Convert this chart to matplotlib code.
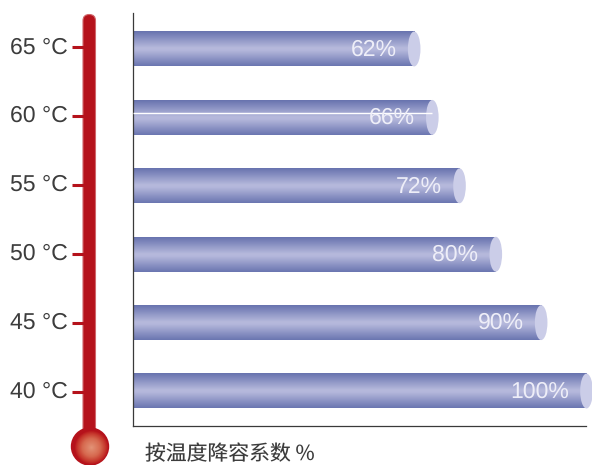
import numpy as np
import matplotlib
matplotlib.use("Agg")
import matplotlib.pyplot as plt
from matplotlib.colors import LinearSegmentedColormap
from matplotlib.patches import Ellipse, Circle, FancyBboxPatch

temperatures = [40, 45, 50, 55, 60, 65]
factors = [100, 90, 80, 72, 66, 62]
xlabel_text = "按温度降容系数 %"

plt.rcParams["text.hinting"] = "no_hinting"
plt.rcParams["text.hinting_factor"] = 1

W, H = 592, 465
fig = plt.figure(figsize=(W / 100, H / 100), dpi=100)
FONT = ["Liberation Sans", "DejaVu Sans"]
CJK = ["Noto Sans CJK SC", "DejaVu Sans"]
TXT = "#3c3c3c"

# bars axes
L, R, T, B = 133, 592, 13, 425.5
ax = fig.add_axes([L / W, 1 - B / H, (R - L) / W, (B - T) / H])
PX = 4.535
ax.set_xlim(0, (R - L) / PX)
ax.set_ylim(-0.504, 5.526)
ax.patch.set_alpha(0)
for s in ("top", "right"):
    ax.spines[s].set_visible(False)
for s in ("left", "bottom"):
    ax.spines[s].set_color("#3a3a3a")
    ax.spines[s].set_linewidth(0.9)
ax.spines["bottom"].set_bounds(0, 99.8)
ax.set_xticks([])
ax.set_yticks([])

cmap = LinearSegmentedColormap.from_list(
    "bar", [(0, "#6b76b1"), (0.45, "#b4b7db"), (0.52, "#b6b9dc"), (1, "#6873af")]
)
grad = np.linspace(0, 1, 64).reshape(-1, 1)
half = 0.255
for i, v in enumerate(factors):
    ax.imshow(grad, cmap=cmap, extent=[0, v, i - half, i + half],
              aspect="auto", zorder=2, origin="lower")
    ax.add_patch(Ellipse((v, i), 12.6 / PX, 2 * half, fc="#cbcde8", ec="none",
                         zorder=3, clip_on=False))
    ax.text(v - 17.5 / PX, i + 0.025, f"{v}%", ha="right", va="center_baseline",
            color="#eeeef8", fontsize=16.8, family=FONT, zorder=4)
ax.set_xlim(0, (R - L) / PX)
ax.set_ylim(-0.504, 5.526)
# stray white line across the 60 °C bar
ax.hlines(temperatures.index(60) + 0.06, 0, factors[temperatures.index(60)],
          color="white", lw=1, zorder=3)

# thermometer overlay in pixel coordinates
tx = fig.add_axes([0, 0, 1, 1])
tx.set_xlim(0, W)
tx.set_ylim(H, 0)
tx.axis("off")
tx.patch.set_alpha(0)
RED = "#b5121b"


def temp_y(t):
    return 392 - (t - 40) * 13.78


tx.add_patch(FancyBboxPatch((83, 14.5), 12.5, 425,
                            boxstyle="round,pad=0,rounding_size=6.2", fc=RED,
                            ec="#d0666a", lw=0.8, zorder=2))

# bulb
bulb = LinearSegmentedColormap.from_list(
    "bulb", [(0, "#e39478"), (0.55, "#d76a50"), (0.85, "#c73a2e"), (1, "#bb1c1f")]
)
tx.add_patch(Circle((90, 446.5), 19.2, fc=RED, ec="none", zorder=4))
for r in np.linspace(16.5, 0.5, 30):
    tx.add_patch(Circle((91.5, 447.5), r, fc=bulb(r / 16.5), ec="none", zorder=4))

for t in temperatures:
    y = temp_y(t)
    tx.plot([72, 84], [y, y], color=RED, lw=2.2, solid_capstyle="butt", zorder=2)
    tx.text(67.5, y - 2.5, f"{t} °C", ha="right", va="center_baseline", fontsize=16.8,
            color=TXT, family=FONT)

tx.text(145, 454, xlabel_text, ha="left", va="center", fontsize=15, color=TXT, family=CJK)

fig.savefig("out.png", dpi=100, facecolor="white")
